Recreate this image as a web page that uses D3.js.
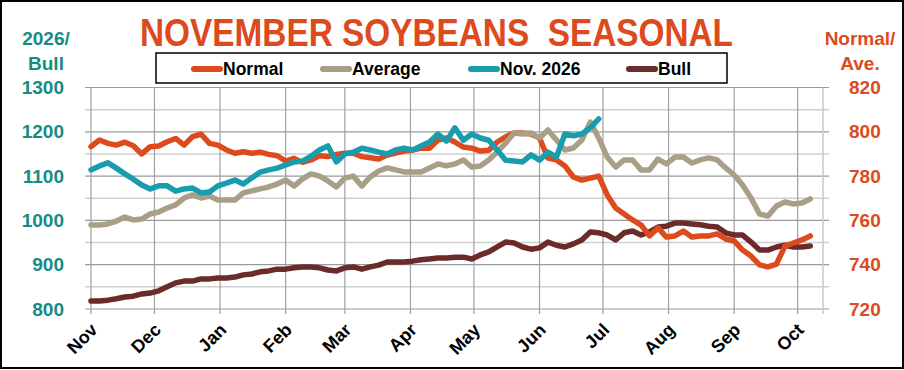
<!DOCTYPE html>
<html>
<head>
<meta charset="utf-8">
<script src="https://cdn.jsdelivr.net/npm/d3@7"></script>
<style>
    body { margin: 0; background: #fff; }
    svg { font-family: Arial, "Liberation Sans", sans-serif; }
</style>
</head>
<body>
<div id="chart"></div>
<script>
// Season runs Nov 1 2025 -> mid Oct 2026, one reading every 4 days
var seasonStart = new Date(2025, 10, 1),
    seasonEnd = new Date(2026, 9, 13),
    stepDays = 4;

// Normal / Average are read on the right axis
var normal = [793.3, 796.3, 794.8, 794, 795.3, 793.7, 790, 793.3, 793.6, 795.5,
    797, 794, 797.8, 798.9, 794.8, 794, 791.8, 790.3, 791, 790.3,
    790.8, 789.8, 789.2, 786.8, 788, 786.2, 787.3, 789.2, 788.8, 789.8,
    790.3, 790.3, 788.8, 788.3, 787.7, 789.5, 790.4, 791.3, 791.7, 792.6,
    792.6, 796.3, 797.2, 795.4, 793.1, 792.6, 791.3, 791.7, 795.4, 797.7,
    799.5, 799.5, 799, 797.2, 788.1, 787.3, 784.6, 779.6, 778.2, 779.1,
    780, 771.5, 765.6, 762.9, 760.2, 757.9, 753, 756.6, 752.5, 753,
    755.2, 752.5, 753, 753, 753.9, 751.6, 750.7, 746.6, 743.9, 739.9,
    739, 740.3, 748.4, 749.8, 751.2, 753];

var average = [757.9, 757.9, 758.4, 759.7, 761.5, 760.2, 760.6, 762.9, 763.8, 765.6,
    767, 770.1, 771.5, 770.1, 771, 769.2, 769.2, 769.2, 772.4, 773.3,
    774.2, 775.1, 776.4, 778.2, 775.5, 778.7, 781, 780, 777.8, 775.1,
    779.1, 780, 775.5, 779.6, 782.3, 783.7, 782.8, 781.9, 781.9, 781.9,
    783.7, 785.5, 784.6, 785.5, 787.3, 784.1, 784.6, 787.3, 790.9, 794.9,
    799.5, 799, 799.5, 797.2, 800.8, 796.3, 791.8, 792.7, 796.3, 804.4,
    797.2, 788.6, 784.1, 787.3, 787.3, 782.8, 782.8, 787.7, 785.5, 788.6,
    788.6, 785.9, 787.3, 788.2, 787.3, 783.7, 780.5, 776, 770.1, 762.9,
    762, 766.5, 768.3, 767.4, 767.9, 769.7];

// Nov. 2026 / Bull are read on the left axis
var nov2026 = [1114, 1123, 1130, 1118, 1105, 1093, 1080, 1071, 1078, 1078,
    1066, 1071, 1073, 1062, 1064, 1078, 1084, 1091, 1082, 1096,
    1109, 1114, 1118, 1125, 1132, 1134, 1145, 1159, 1168, 1132,
    1150, 1154, 1163, 1159, 1154, 1150, 1159, 1163, 1159, 1168,
    1177, 1195, 1179, 1209, 1181, 1195, 1186, 1181, 1159, 1136,
    1134, 1132, 1148, 1136, 1154, 1143, 1195, 1191, 1195, 1209,
    1229];

var bull = [818, 818, 820, 823, 827, 829, 834, 836, 841, 850,
    859, 863, 863, 868, 868, 870, 870, 872, 877, 879,
    884, 886, 890, 890, 893, 895, 895, 893, 888, 886,
    893, 895, 890, 895, 899, 906, 906, 906, 908, 911,
    913, 915, 915, 917, 917, 913, 922, 929, 940, 951,
    949, 940, 935, 938, 951, 944, 940, 947, 956, 974,
    972, 967, 956, 972, 976, 967, 974, 985, 987, 994,
    994, 992, 990, 987, 985, 972, 967, 967, 951, 933,
    933, 940, 944, 940, 940, 942];

var seriesNames = ["Normal", "Average", "Nov. 2026", "Bull"];
var seriesColors = ["#DC4A1E", "#A89F86", "#179DAD", "#6B2B2B"];
var leftTicks = [800, 900, 1000, 1100, 1200, 1300];
var rightTicks = [720, 740, 760, 780, 800, 820];

var dates = normal.map(function (_, i) {
    return d3.timeDay.offset(seasonStart, i * stepDays);
});

var svg = d3.select("#chart").append("svg")
    .attr("width", 904)
    .attr("height", 370);

svg.append("rect")
    .attr("x", 1).attr("y", 1)
    .attr("width", 902).attr("height", 367)
    .attr("fill", "#fff")
    .attr("stroke", "#000")
    .attr("stroke-width", 2);

var plot = {left: 91, right: 823, top: 87.5, bottom: 309};

var x = d3.scaleTime()
    .domain([seasonStart, seasonEnd])
    .range([plot.left, plot.right]);
var yL = d3.scaleLinear().domain([800, 1300]).range([plot.bottom, plot.top]);
var yR = d3.scaleLinear().domain([720, 820]).range([plot.bottom, plot.top]);

// horizontal grid, every 50 on the left axis
var g = svg.append("g");
d3.range(800, 1301, 50).forEach(function (v) {
    g.append("line")
        .attr("x1", plot.left - 6).attr("x2", plot.right + 6)
        .attr("y1", yL(v)).attr("y2", yL(v))
        .attr("stroke", v % 100 === 0 ? "#9a9a9a" : "#cfcfcf")
        .attr("stroke-width", v % 100 === 0 ? 1.2 : 1.5);
});

// vertical grid at each month + frame edge
var months = x.ticks(d3.timeMonth.every(1));
months.forEach(function (m) {
    g.append("line")
        .attr("x1", x(m)).attr("x2", x(m))
        .attr("y1", plot.top).attr("y2", plot.bottom + 5)
        .attr("stroke", "#a0a0a0")
        .attr("stroke-width", 1.2);
});
g.append("line")
    .attr("x1", plot.right).attr("x2", plot.right)
    .attr("y1", plot.top).attr("y2", plot.bottom + 5)
    .attr("stroke", "#c8c8c8").attr("stroke-width", 1.5);

// month labels
var xAxis = svg.append("g")
    .attr("transform", "translate(0," + (plot.bottom + 5) + ")")
    .call(d3.axisBottom(x).ticks(d3.timeMonth.every(1)).tickFormat(d3.timeFormat("%b")).tickSize(0));
xAxis.select(".domain").remove();
xAxis.selectAll("text")
    .attr("fill", "#000")
    .attr("font-size", 18)
    .attr("font-weight", "bold")
    .attr("text-anchor", "end")
    .attr("y", 0)
    .attr("dy", 0)
    .attr("transform", "translate(7,17) rotate(-45)");

// left axis labels
var leftAxis = svg.append("g")
    .attr("transform", "translate(" + (plot.left - 6) + ",0)")
    .call(d3.axisLeft(yL).tickValues(leftTicks).tickFormat(d3.format("d")).tickSize(0).tickPadding(21));
leftAxis.select(".domain").remove();
leftAxis.selectAll("text")
    .attr("fill", "#138C84")
    .attr("font-size", 19)
    .attr("font-weight", "bold");

// right axis labels
var rightAxis = svg.append("g")
    .attr("transform", "translate(" + (plot.right + 6) + ",0)")
    .call(d3.axisRight(yR).tickValues(rightTicks).tickFormat(d3.format("d")).tickSize(0).tickPadding(20));
rightAxis.select(".domain").remove();
rightAxis.selectAll("text")
    .attr("fill", "#DC4A1E")
    .attr("font-size", 19)
    .attr("font-weight", "bold");

// axis titles
function axisTitle(lines, cx, color) {
    lines.forEach(function (t, i) {
        svg.append("text")
            .attr("x", cx).attr("y", 45 + i * 25)
            .attr("text-anchor", "middle")
            .attr("fill", color)
            .attr("font-size", 19)
            .attr("font-weight", "bold")
            .text(t);
    });
}
axisTitle(["2026/", "Bull"], 46, "#138C84");
axisTitle(["Normal/", "Ave."], 860, "#DC4A1E");

// title
svg.append("text")
    .attr("transform", "translate(140,46) scale(1,1.13)")
    .attr("textLength", 593)
    .attr("lengthAdjust", "spacingAndGlyphs")
    .attr("fill", "#DC4A1E")
    .attr("font-size", 34)
    .attr("font-weight", "bold")
    .text("NOVEMBER SOYBEANS\u00a0\u00a0SEASONAL");

// series lines
function drawLine(values, scale, color) {
    var line = d3.line()
        .defined(function (d) { return d != null; })
        .x(function (d, i) { return x(dates[i]); })
        .y(function (d) { return scale(d); });
    svg.append("path")
        .datum(values)
        .attr("d", line)
        .attr("fill", "none")
        .attr("stroke", color)
        .attr("stroke-width", 5.5)
        .attr("stroke-linejoin", "round")
        .attr("stroke-linecap", "round");
}
drawLine(bull, yL, seriesColors[3]);
drawLine(normal, yR, seriesColors[0]);
drawLine(average, yR, seriesColors[1]);
drawLine(nov2026, yL, seriesColors[2]);

// legend
var legend = svg.append("g");
legend.append("rect")
    .attr("x", 156).attr("y", 53)
    .attr("width", 571).attr("height", 30)
    .attr("fill", "#fff")
    .attr("stroke", "#000")
    .attr("stroke-width", 1.5);
var legendX = [194, 323, 471, 629];
seriesNames.forEach(function (name, i) {
    legend.append("line")
        .attr("x1", legendX[i]).attr("x2", legendX[i] + 26)
        .attr("y1", 69).attr("y2", 69)
        .attr("stroke", seriesColors[i])
        .attr("stroke-width", 6)
        .attr("stroke-linecap", "round");
    legend.append("text")
        .attr("x", legendX[i] + 29).attr("y", 75)
        .attr("font-size", 17.5)
        .attr("font-weight", "bold")
        .attr("fill", "#000")
        .text(name);
});
</script>
</body>
</html>
